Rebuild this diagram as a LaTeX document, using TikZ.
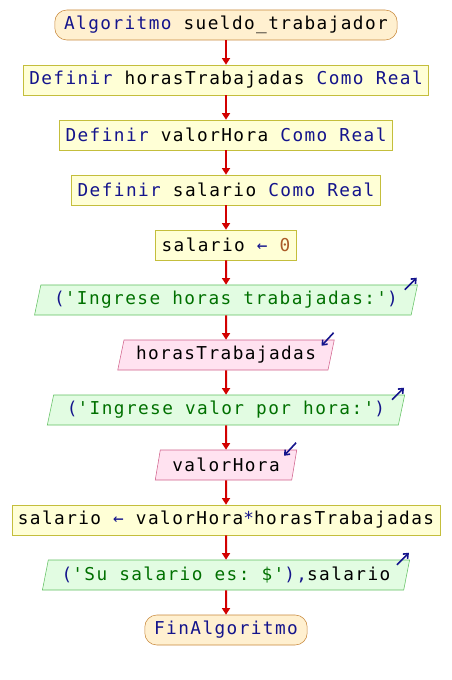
\documentclass[tikz,border=0pt]{standalone}
\usepackage{fontspec}
\setmonofont{DejaVu Sans Mono}[LetterSpace=8]
\usepackage{tikz}
\usetikzlibrary{arrows.meta, positioning, calc, shapes.geometric}
\definecolor{termfill}{RGB}{255,240,208}
\definecolor{termline}{RGB}{200,136,58}
\definecolor{procfill}{RGB}{255,255,214}
\definecolor{procline}{RGB}{196,190,60}
\definecolor{outfill}{RGB}{226,252,226}
\definecolor{outline}{RGB}{96,192,96}
\definecolor{infill}{RGB}{255,226,240}
\definecolor{inline}{RGB}{208,96,138}
\definecolor{kwc}{RGB}{20,20,140}
\definecolor{strc}{RGB}{0,112,0}
\definecolor{numc}{RGB}{170,90,40}
\definecolor{flowc}{RGB}{210,0,0}
\newcommand{\kwd}[1]{\textcolor{kwc}{#1}}
\newcommand{\strg}[1]{\textcolor{strc}{#1}}
\newcommand{\numb}[1]{\textcolor{numc}{#1}}
\tikzset{
  base/.style={font=\ttfamily\fontsize{13.3pt}{15pt}\selectfont, minimum height=22.5pt, inner ysep=0pt, inner xsep=4.5pt},
  term/.style={base, draw=termline, fill=termfill, rounded corners=9pt, inner xsep=7pt},
  proc/.style={base, draw=procline, fill=procfill},
  outp/.style={base, draw=outline, fill=outfill, trapezium, trapezium left angle=70, trapezium right angle=110, trapezium stretches=true, inner xsep=10pt},
  inp/.style={base, draw=inline, fill=infill, trapezium, trapezium left angle=70, trapezium right angle=110, trapezium stretches=true, inner xsep=9pt},
  flow/.style={draw=flowc, line width=1.5pt, -{Triangle[width=6pt,length=5pt]}},
  ioarrow/.style={draw=kwc, line width=1.2pt, -{Straight Barb[length=3pt,width=5pt]}}
}
\begin{document}
\begin{tikzpicture}[x=0.75pt, y=-0.75pt]
			\useasboundingbox (0,0) rectangle (452,680);
			% steps of the algorithm, top to bottom
			\node[term] (start) at (226,25) {\kwd{Algoritmo} sueldo\_trabajador};
			\node[proc] (defHoras) at (226,80) {\kwd{Definir} horasTrabajadas \kwd{Como Real}};
			\node[proc] (defValor) at (226,135) {\kwd{Definir} valorHora \kwd{Como Real}};
			\node[proc] (defSalario) at (226,190) {\kwd{Definir} salario \kwd{Como Real}};
			\node[proc] (initSal) at (226,245) {salario \kwd{←} \numb{0}};
			\node[outp] (outHoras) at (226,300) {\kwd{(}\strg{'Ingrese horas trabajadas:'}\kwd{)}};
			\node[inp] (inHoras) at (226,355) {horasTrabajadas};
			\node[outp] (outValor) at (226,410) {\kwd{(}\strg{'Ingrese valor por hora:'}\kwd{)}};
			\node[inp] (inValor) at (226,465) {valorHora};
			\node[proc] (calcSal) at (226,520) {salario \kwd{←} valorHora\kwd{*}horasTrabajadas};
			\node[outp] (outSal) at (226,575) {\kwd{(}\strg{'Su salario es: \$'}\kwd{),}salario};
			\node[term] (stop) at (226,630) {\kwd{FinAlgoritmo}};
			% flow arrows
			\foreach \a/\b in {start/defHoras, defHoras/defValor, defValor/defSalario, defSalario/initSal, initSal/outHoras, outHoras/inHoras, inHoras/outValor, outValor/inValor, inValor/calcSal, calcSal/outSal, outSal/stop}
				\draw[flow] (\a) -- (\b);
			% small in/out marks
			\foreach \n in {outHoras, outValor, outSal}
				\draw[ioarrow] ($(\n.top right corner)+(-13,5)$) -- ($(\n.top right corner)+(-1,-7)$);
			\foreach \n in {inHoras, inValor}
				\draw[ioarrow] ($(\n.top right corner)+(-1,-7)$) -- ($(\n.top right corner)+(-13,6)$);
		\end{tikzpicture}
\end{document}
